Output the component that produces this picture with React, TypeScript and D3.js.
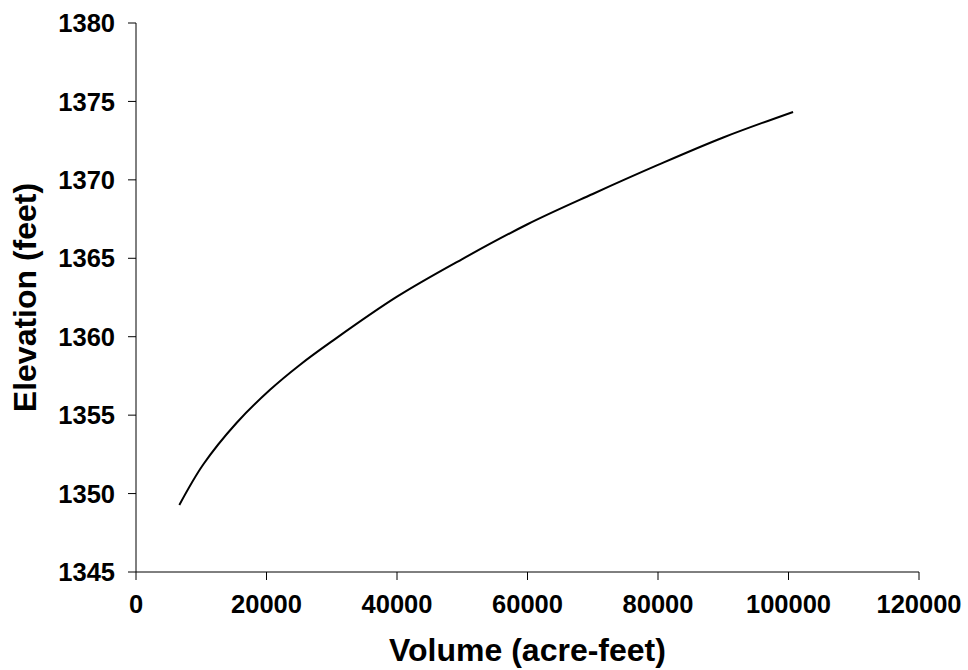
import React from "react";
import * as d3 from "d3";

const volumes = [6640, 10300, 15400, 20500, 25100, 30000, 40000, 50000, 60000, 70000, 80000, 90000, 100700];
const elevations = [1349.27, 1351.85, 1354.5, 1356.6, 1358.2, 1359.7, 1362.55, 1364.95, 1367.17, 1369.1, 1370.95, 1372.7, 1374.33];
const xTicks = [0, 20000, 40000, 60000, 80000, 100000, 120000];
const yTicks = [1345, 1350, 1355, 1360, 1365, 1370, 1375, 1380];
const xTitle = "Volume (acre-feet)";
const yTitle = "Elevation (feet)";

export default function App() {
  const W = 968, H = 670;
  const left = 136, right = 919, top = 23, bottom = 572;
  const x = d3.scaleLinear().domain([0, 120000]).range([left, right]);
  const y = d3.scaleLinear().domain([1345, 1380]).range([bottom, top]);
  const pts: [number, number][] = volumes.map((v, i) => [v, elevations[i]]);
  const line = d3.line<[number, number]>().x(d => x(d[0])).y(d => y(d[1])).curve(d3.curveCatmullRom.alpha(0.5));
  const font = "'Liberation Sans', Arial, sans-serif";
  return (
    <svg width={W} height={H} style={{ position: "absolute", left: 0, top: 0, background: "#fff" }} fontFamily={font}>
      <rect x={0} y={0} width={W} height={H} fill="#fff" />
      <line x1={left} x2={left} y1={top} y2={bottom} stroke="#000" strokeWidth={1} />
      <line x1={left} x2={right} y1={bottom} y2={bottom} stroke="#000" strokeWidth={1} />
      {yTicks.map(t => (
        <g key={"y" + t}>
          <line x1={left - 8} x2={left} y1={y(t)} y2={y(t)} stroke="#000" />
          <text x={115} y={y(t)} dy="0.36em" textAnchor="end" fontSize={25.5} fontWeight="bold">{t}</text>
        </g>
      ))}
      {xTicks.map(t => (
        <g key={"x" + t}>
          <line x1={x(t)} x2={x(t)} y1={bottom} y2={bottom + 8} stroke="#000" />
          <text x={x(t)} y={613} textAnchor="middle" fontSize={25.5} fontWeight="bold">{t}</text>
        </g>
      ))}
      <path d={line(pts) || ""} fill="none" stroke="#000" strokeWidth={2} />
      <text x={(left + right) / 2} y={661} textAnchor="middle" fontSize={32} fontWeight="bold">{xTitle}</text>
      <text transform={`translate(36, ${(top + bottom) / 2}) rotate(-90)`} textAnchor="middle" fontSize={32} fontWeight="bold">{yTitle}</text>
    </svg>
  );
}
